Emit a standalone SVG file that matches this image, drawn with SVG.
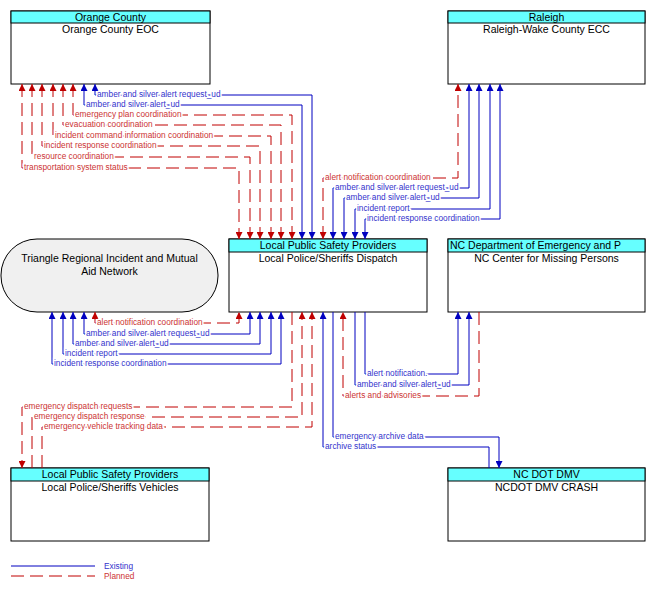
<svg xmlns="http://www.w3.org/2000/svg" width="653" height="590" viewBox="0 0 653 590">
<style>
.box{fill:#fff;stroke:#000;stroke-width:1}
.hdr{fill:#66ffff;stroke:#000;stroke-width:1}
.t{font-family:"Liberation Sans",Arial,sans-serif;font-size:10.5px;text-anchor:middle;fill:#000}
.e{fill:none;stroke:#0000c0;stroke-width:1}
.p{fill:none;stroke:#c00000;stroke-width:1;stroke-dasharray:13,6}
.le{font-family:"Liberation Sans",Arial,sans-serif;font-size:8.3px;fill:#3333cc;stroke:#fff;stroke-width:3;paint-order:stroke;dominant-baseline:middle}
.lp{font-family:"Liberation Sans",Arial,sans-serif;font-size:8.3px;fill:#cc3333;stroke:#fff;stroke-width:3;paint-order:stroke;dominant-baseline:middle}
.e.a,.e.b{marker-end:url(#ab)}
.e.b{marker-start:url(#ab)}
.p.a,.p.b{marker-end:url(#ar)}
.p.b{marker-start:url(#ar)}
</style>
<defs>
<marker id="ab" viewBox="0 0 8 8" refX="8" refY="4" markerWidth="7" markerHeight="7" markerUnits="userSpaceOnUse" orient="auto-start-reverse"><path d="M0,0 L8,4 L0,8 z" fill="#0000c0"/></marker>
<marker id="ar" viewBox="0 0 8 8" refX="8" refY="4" markerWidth="7" markerHeight="7" markerUnits="userSpaceOnUse" orient="auto-start-reverse"><path d="M0,0 L8,4 L0,8 z" fill="#c00000"/></marker>
</defs>
<rect width="653" height="590" fill="#fff"/>
<g id="orange-county"><rect class="box" x="11" y="11" width="199" height="73"/><rect class="hdr" x="11" y="11" width="199" height="12"/><text class="t" x="110.5" y="21">Orange County</text><text class="t" x="110.5" y="33">Orange County EOC</text></g>
<g id="raleigh"><rect class="box" x="448" y="11" width="197" height="73"/><rect class="hdr" x="448" y="11" width="197" height="12"/><text class="t" x="546.5" y="21">Raleigh</text><text class="t" x="546.5" y="33">Raleigh-Wake County ECC</text></g>
<g id="triangle"><rect x="1" y="239" width="217" height="73" rx="36" ry="36" fill="#f0f0f0" stroke="#000"/><text class="t" x="109.5" y="262">Triangle Regional Incident and Mutual</text><text class="t" x="109.5" y="275">Aid Network</text></g>
<g id="dispatch"><rect class="box" x="229" y="239" width="198" height="73"/><rect class="hdr" x="229" y="239" width="198" height="13"/><text class="t" x="328" y="249">Local Public Safety Providers</text><text class="t" x="328" y="262">Local Police/Sheriffs Dispatch</text></g>
<g id="nc-center"><rect class="box" x="448" y="239" width="197" height="73"/><rect class="hdr" x="448" y="239" width="197" height="13"/><text class="t" x="450" y="249" style="text-anchor:start">NC Department of Emergency and P</text><text class="t" x="546.5" y="262">NC Center for Missing Persons</text></g>
<g id="vehicles"><rect class="box" x="11" y="468" width="198" height="73"/><rect class="hdr" x="11" y="468" width="198" height="13"/><text class="t" x="110" y="478">Local Public Safety Providers</text><text class="t" x="110" y="491">Local Police/Sheriffs Vehicles</text></g>
<g id="ncdot"><rect class="box" x="448" y="468" width="197" height="73"/><rect class="hdr" x="448" y="468" width="197" height="13"/><text class="t" x="546.5" y="478">NC DOT DMV</text><text class="t" x="546.5" y="491">NCDOT DMV CRASH</text></g>
<g id="connectors">
<path class="e b" d="M95,84V95H312V239"/><text class="le" x="97" y="95">amber and silver alert request_ud</text>
<path class="e b" d="M84,84V105H302V239"/><text class="le" x="86" y="105">amber and silver alert_ud</text>
<path class="p b" d="M73,84V115H292V239"/><text class="lp" x="75" y="115">emergency plan coordination</text>
<path class="p b" d="M63,84V125H281V239"/><text class="lp" x="65" y="125">evacuation coordination</text>
<path class="p b" d="M53,84V136H271V239"/><text class="lp" x="55" y="136">incident command information coordination</text>
<path class="p b" d="M42,84V146H260V239"/><text class="lp" x="44" y="146">incident response coordination</text>
<path class="p b" d="M32,84V157H250V239"/><text class="lp" x="34" y="157">resource coordination</text>
<path class="p b" d="M22,84V168H239V239"/><text class="lp" x="24" y="168">transportation system status</text>
<path class="p b" d="M323,239V178H458V84"/><text class="lp" x="325" y="178">alert notification coordination</text>
<path class="e b" d="M333,239V188H469V84"/><text class="le" x="335" y="188">amber and silver alert request_ud</text>
<path class="e b" d="M344,239V198H479V84"/><text class="le" x="346" y="198">amber and silver alert_ud</text>
<path class="e b" d="M355,239V209H490V84"/><text class="le" x="357" y="209">incident report</text>
<path class="e b" d="M365,239V219H500V84"/><text class="le" x="367" y="219">incident response coordination</text>
<path class="p b" d="M95,312V323H239V312"/><text class="lp" x="97" y="323">alert notification coordination</text>
<path class="e b" d="M84,312V334H250V312"/><text class="le" x="86" y="334">amber and silver alert request_ud</text>
<path class="e b" d="M73,312V344H260V312"/><text class="le" x="75" y="344">amber and silver alert_ud</text>
<path class="e b" d="M63,312V354H271V312"/><text class="le" x="65" y="354">incident report</text>
<path class="e b" d="M52,312V364H281V312"/><text class="le" x="54" y="364">incident response coordination</text>
<path class="p a" d="M292,312V407H22V468"/><text class="lp" x="24" y="407">emergency dispatch requests</text>
<path class="p a" d="M32,468V417H302V312"/><text class="lp" x="34" y="417">emergency dispatch response</text>
<path class="p a" d="M42,468V427H312V312"/><text class="lp" x="44" y="427">emergency vehicle tracking data</text>
<path class="e a" d="M365,312V374H458V312"/><text class="le" x="367" y="374">alert notification.</text>
<path class="e a" d="M355,312V385H469V312"/><text class="le" x="357" y="385">amber and silver alert_ud</text>
<path class="p a" d="M479,312V396H343V312"/><text class="lp" x="345" y="396">alerts and advisories</text>
<path class="e a" d="M333,312V437H499V468"/><text class="le" x="335" y="437">emergency archive data</text>
<path class="e a" d="M489,468V447H323V312"/><text class="le" x="325" y="447">archive status</text>
</g>
<g id="legend">
<line x1="11" y1="566" x2="95" y2="566" stroke="#0000c0"/>
<line x1="11" y1="576" x2="95" y2="576" stroke="#c00000" stroke-dasharray="13,6"/>
<text x="104" y="569" font-family="Liberation Sans,Arial,sans-serif" font-size="8.3" fill="#3333cc">Existing</text>
<text x="104" y="579" font-family="Liberation Sans,Arial,sans-serif" font-size="8.3" fill="#cc3333">Planned</text>
</g>
</svg>
